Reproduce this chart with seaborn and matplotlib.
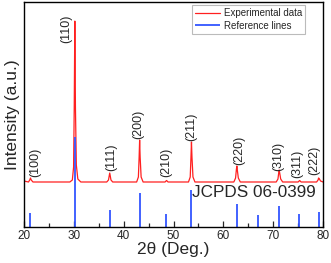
import matplotlib
matplotlib.use("Agg")
import matplotlib.pyplot as plt
import seaborn as sns
import pandas as pd
from matplotlib.ticker import MultipleLocator

# Experimental pattern (arbitrary units)
two_theta = [20.0, 20.9, 21.15, 21.3, 21.45, 21.8,
             29.2, 29.7, 29.95, 30.08, 30.2, 30.32, 30.5, 30.8, 31.4,
             36.6, 36.95, 37.2, 37.45, 37.8,
             42.6, 42.95, 43.1, 43.2, 43.3, 43.5, 43.9,
             48.3, 48.6, 48.9,
             53.0, 53.35, 53.5, 53.6, 53.7, 53.9, 54.3,
             62.1, 62.45, 62.6, 62.7, 62.8, 63.0, 63.4,
             70.6, 70.95, 71.1, 71.2, 71.3, 71.5, 71.9,
             75.0, 75.3, 75.6,
             78.7, 79.0, 79.1, 79.2, 79.5, 80.0]
intensity = [46, 45, 47, 49, 47, 45,
             45, 47, 60, 120, 206, 120, 62, 48, 45,
             45, 47, 54, 47, 45,
             45, 50, 70, 87, 70, 50, 45,
             45, 46.5, 45,
             45, 50, 70, 85, 70, 50, 45,
             45, 49, 57, 61, 57, 49, 45,
             45, 48, 54, 57, 54, 48, 45,
             45, 46.5, 45,
             45, 47, 49, 48.5, 46, 45]

# JCPDS 06-0399 reference lines
ref_pos = [21.3, 30.2, 37.2, 43.2, 48.5, 53.6, 62.7, 66.9, 71.2, 75.2, 79.1]
ref_int = [14, 90, 17, 34, 13, 37, 23, 12, 21, 13, 15]

# Miller index labels
hkl = ["(100)", "(110)", "(111)", "(200)", "(210)", "(211)",
       "(220)", "(310)", "(311)", "(222)"]
hkl_x = [22.2, 28.4, 37.6, 43.0, 48.6, 53.6, 63.2, 71.0, 74.8, 78.2]
hkl_y = [50, 184, 56, 88, 50, 86, 62, 56, 49, 52]

df = pd.DataFrame({"two_theta": two_theta, "intensity": intensity})

sns.set_style("ticks")
plt.rcParams["font.family"] = ["Liberation Sans", "DejaVu Sans"]
plt.rcParams["mathtext.fontset"] = "custom"

fig = plt.figure(figsize=(3.31, 2.63), dpi=100)
ax = fig.add_axes([0.0725, 0.137, 0.9035, 0.855])

sns.lineplot(data=df, x="two_theta", y="intensity", ax=ax,
             color="#ff2020", linewidth=0.9, label="Experimental data")
ax.vlines(ref_pos, 0, ref_int, color="#3355ff", linewidth=1.3,
          label="Reference lines")

for lab, x, y in zip(hkl, hkl_x, hkl_y):
    ax.text(x, y, lab, rotation=90, ha="center", va="bottom", fontsize=9)

ax.text(66.2, 34, "JCPDS 06-0399", ha="center", va="center", fontsize=12.3)

ax.set_xlim(20, 80)
ax.set_ylim(0, 225)
ax.set_yticks([])
ax.xaxis.set_major_locator(MultipleLocator(10))
ax.xaxis.set_minor_locator(MultipleLocator(5))
ax.tick_params(axis="x", which="both", direction="in", labelsize=8.5,
               top=False, pad=2)
ax.tick_params(axis="x", which="major", length=4, width=0.9)
ax.tick_params(axis="x", which="minor", length=3, width=0.9)
for sp in ax.spines.values():
    sp.set_visible(True)
    sp.set_linewidth(1.0)
    sp.set_color("black")

ax.set_xlabel("2θ (Deg.)", fontsize=12.5, labelpad=0)
ax.set_ylabel("Intensity (a.u.)", fontsize=12.5, labelpad=3)

leg = ax.legend(loc="upper right", bbox_to_anchor=(0.94, 0.985), fontsize=7,
                frameon=True, fancybox=False, edgecolor="#aaaaaa",
                handlelength=2.6, handletextpad=0.4, borderpad=0.3,
                labelspacing=0.25, borderaxespad=0)
leg.get_frame().set_linewidth(0.8)

plt.savefig("out.png", dpi=100)
